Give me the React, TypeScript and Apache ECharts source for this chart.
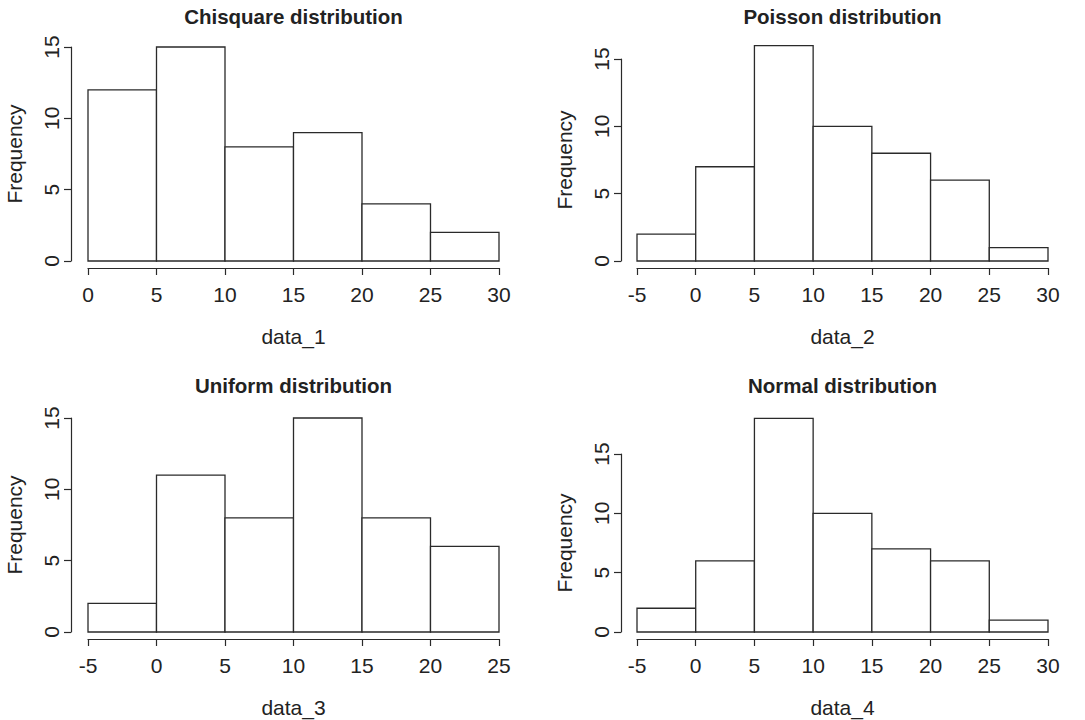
import React, { useEffect, useRef } from 'react';
import * as echarts from 'echarts';

const chisqBreaks = [0, 5, 10, 15, 20, 25, 30];
const chisqCounts = [12, 15, 8, 9, 4, 2];
const poissonBreaks = [-5, 0, 5, 10, 15, 20, 25, 30];
const poissonCounts = [2, 7, 16, 10, 8, 6, 1];
const uniformBreaks = [-5, 0, 5, 10, 15, 20, 25];
const uniformCounts = [2, 11, 8, 15, 8, 6];
const normalBreaks = [-5, 0, 5, 10, 15, 20, 25, 30];
const normalCounts = [2, 6, 18, 10, 7, 6, 1];

const yMin = 0;
const yMax = 15;
const tickStep = 5;
const titles = ['Chisquare distribution', 'Poisson distribution', 'Uniform distribution', 'Normal distribution'];
const xNames = ['data_1', 'data_2', 'data_3', 'data_4'];
const yName = 'Frequency';

const FONT = '"Liberation Sans", Arial, Helvetica, sans-serif';
const TEXT = '#222';
const LINE = '#2a2a2a';
const FS = 21;

const panels = [
  { left: 88, width: 411, top: 47, height: 214, breaks: chisqBreaks, counts: chisqCounts },
  { left: 637, width: 411, top: 59, height: 202, breaks: poissonBreaks, counts: poissonCounts },
  { left: 88, width: 411, top: 418, height: 214, breaks: uniformBreaks, counts: uniformCounts },
  { left: 637, width: 411, top: 454, height: 178, breaks: normalBreaks, counts: normalCounts },
];
const titleY = [16, 16, 385, 385];

export default function App() {
  const ref = useRef<HTMLDivElement>(null);
  useEffect(() => {
    if (!ref.current) return;
    const chart = echarts.init(ref.current, undefined, { renderer: 'svg' });
    const grid = panels.map((p) => ({ left: p.left, top: p.top, width: p.width, height: p.height, containLabel: false }));
    const xAxis = panels.map((p, i) => ({
      type: 'value',
      gridIndex: i,
      min: p.breaks[0],
      max: p.breaks[p.breaks.length - 1],
      interval: tickStep,
      offset: 7,
      axisLine: { show: true, onZero: false, lineStyle: { color: LINE, width: 1.2 } },
      axisTick: { show: true, length: 7, lineStyle: { color: LINE, width: 1.2 } },
      axisLabel: { fontSize: FS, color: TEXT, fontFamily: FONT, margin: 16 },
      splitLine: { show: false },
      name: xNames[i],
      nameLocation: 'middle',
      nameGap: 58,
      nameTextStyle: { fontSize: FS, color: TEXT, fontFamily: FONT },
    }));
    const yAxis = panels.map((p, i) => ({
      type: 'value',
      gridIndex: i,
      min: yMin,
      max: yMax,
      interval: tickStep,
      offset: p.left === 88 ? 17 : 16,
      axisLine: { show: true, onZero: false, lineStyle: { color: LINE, width: 1.2 } },
      axisTick: { show: true, length: 7, lineStyle: { color: LINE, width: 1.2 } },
      axisLabel: { fontSize: FS, color: TEXT, fontFamily: FONT, rotate: 90, margin: 9 },
      splitLine: { show: false },
      name: yName,
      nameLocation: 'middle',
      nameGap: 46,
      nameTextStyle: { fontSize: FS, color: TEXT, fontFamily: FONT },
    }));
    const series = panels.map((p, i) => ({
      type: 'custom',
      xAxisIndex: i,
      yAxisIndex: i,
      clip: false,
      encode: { x: [0, 1], y: 2 },
      data: p.counts.map((c, k) => [p.breaks[k], p.breaks[k + 1], c]),
      renderItem: (params: any, api: any) => {
        const p0 = api.coord([api.value(0), 0]);
        const p1 = api.coord([api.value(1), api.value(2)]);
        return {
          type: 'rect',
          shape: { x: p0[0], y: p1[1], width: p1[0] - p0[0], height: p0[1] - p1[1] },
          style: { fill: '#fff', stroke: LINE, lineWidth: 1.3 },
        };
      },
    }));
    const graphic = panels.map((p, i) => ({
      type: 'text',
      x: p.left + p.width / 2,
      y: titleY[i],
      style: {
        text: titles[i],
        fill: TEXT,
        font: `bold 20.5px ${FONT}`,
        align: 'center',
        verticalAlign: 'middle',
      },
    }));
    chart.setOption({
      animation: false,
      backgroundColor: '#fff',
      grid,
      xAxis,
      yAxis,
      series,
      graphic,
    } as any);
    return () => chart.dispose();
  }, []);
  return <div ref={ref} style={{ position: 'fixed', left: 0, top: 0, width: 1085, height: 720 }} />;
}
